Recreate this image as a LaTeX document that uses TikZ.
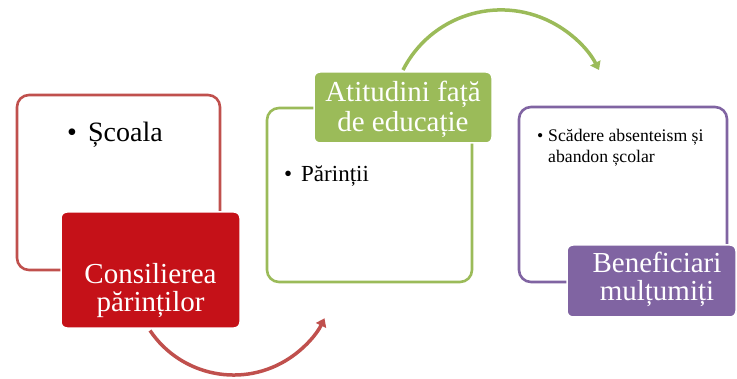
\documentclass[tikz,border=0pt]{standalone}
\usepackage{fontspec}
\setmainfont{Liberation Serif}
\usetikzlibrary{arrows.meta}
\definecolor{ored}{RGB}{192,80,77}
\definecolor{dred}{RGB}{197,17,24}
\definecolor{ogreen}{RGB}{155,187,89}
\definecolor{opurple}{RGB}{128,100,162}
\newcommand\twolc[2]{\vtop{\lineskiplimit=-50pt\lineskip=0pt\halign{\hfil##\hfil\cr#1\cr#2\cr}}}
\newcommand\twoll[2]{\vtop{\lineskiplimit=-50pt\lineskip=0pt\halign{##\hfil\cr#1\cr#2\cr}}}
\tikzset{
  outbox/.style={line width=2.6pt, rounded corners=12pt, fill=white},
  labbox/.style={draw=white, line width=1.5pt, rounded corners=6pt},
  labtxt/.style={anchor=base, inner sep=0pt, text=white},
  bultxt/.style={anchor=base west, inner sep=0pt, text=black},
  arc/.style={line width=3.5pt, -{Triangle[length=8pt,width=11pt]}},
}
\begin{document}
\begin{tikzpicture}[x=1pt,y=1pt]
\useasboundingbox (0,0) rectangle (737,378);
% outline boxes
\draw[outbox, draw=ored] (17,108) rectangle (220,283);
\draw[outbox, draw=ogreen] (267,96) rectangle (472,270);
\draw[outbox, draw=opurple] (519,96) rectangle (727,271);
% arcs
\coordinate (r1) at (150,47.5);
\coordinate (g1) at (403,308);
\draw[arc, ored] (r1) arc[start angle=214, end angle=334, radius=101pt] coordinate (r2);
\draw[arc, ogreen] (g1) arc[start angle=153, end angle=27, radius=110pt] coordinate (g2);
% label boxes
\draw[labbox, fill=dred] (61,50) rectangle (240,166);
\draw[labbox, fill=ogreen] (314,235) rectangle (492,306);
\draw[labbox, fill=opurple] (567,61) rectangle (736,133);
% label texts
\node[labtxt, font=\fontsize{29}{28}\selectfont] (l1) at (150.5,94) {\twolc{Consilierea}{părinților}};
\node[labtxt, font=\fontsize{29}{30}\selectfont] (l2) at (403,276.5) {\twolc{Atitudini față}{de educație}};
\node[labtxt, font=\fontsize{29}{28}\selectfont] (l3) at (657,105) {\twolc{Beneficiari}{mulțumiți}};
% bullet texts
\node[bultxt, font=\fontsize{28}{30}\selectfont] (b1) at (67,236) {\makebox[21pt][l]{\textbullet}Școala};
\node[bultxt, font=\fontsize{23}{26}\selectfont] (b2) at (284,196) {\makebox[17pt][l]{\textbullet}Părinții};
\node[bultxt, font=\fontsize{17.7}{21}\selectfont] (b3) at (548,236) {\twoll{\llap{\textbullet\hspace{5pt}}Scădere absenteism și}{abandon școlar}};
\end{tikzpicture}
\end{document}
